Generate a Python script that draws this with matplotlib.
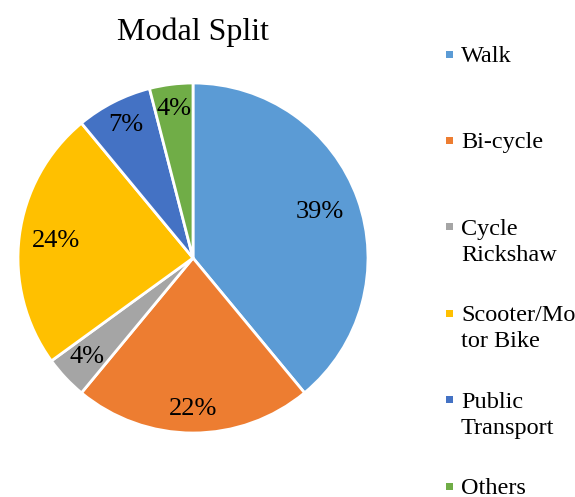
import numpy as np
import matplotlib.pyplot as plt
from matplotlib.patches import Rectangle

plt.rcParams['font.family'] = ['Liberation Serif', 'DejaVu Serif']

modes = ['Walk', 'Bi-cycle', 'Cycle\nRickshaw', 'Scooter/Mo\ntor Bike', 'Public\nTransport', 'Others']
shares = [39, 22, 4, 24, 7, 4]
colors = ['#5B9BD5', '#ED7D31', '#A5A5A5', '#FFC000', '#4472C4', '#70AD47']
# radial position of each percentage label (fraction of radius)
label_dist = [0.77, 0.86, 0.83, 0.79, 0.85, 0.86]

W, H = 575, 497
fig = plt.figure(figsize=(W / 100, H / 100), dpi=100)

# pie centred at (193, 258) px with a 175 px radius
cx, cy, r = 193, 258, 175
ax = fig.add_axes([(cx - r) / W, (H - cy - r) / H, 2 * r / W, 2 * r / H])
wedges, texts = ax.pie(shares, colors=colors, startangle=90, counterclock=False,
                       wedgeprops=dict(edgecolor='white', linewidth=2))
ax.set_xlim(-1, 1)
ax.set_ylim(-1, 1)
ax.set_aspect('equal')
ax.axis('off')

for w, val, d in zip(wedges, shares, label_dist):
    ang = np.deg2rad((w.theta1 + w.theta2) / 2)
    ax.text(d * np.cos(ang), d * np.sin(ang), f'{val}%', ha='center', va='center',
            fontsize=19, color='black')

fig.text(cx / W, 1 - 32 / H, 'Modal Split', ha='center', va='center', fontsize=23)

# legend drawn by hand, entries evenly spaced down the right side
y0, step = 54, 86.4
for i, (name, c) in enumerate(zip(modes, colors)):
    y = y0 + i * step
    fig.patches.append(Rectangle(((449.5 - 3.5) / W, 1 - (y + 3.5) / H), 7 / W, 7 / H,
                                 transform=fig.transFigure, facecolor=c, edgecolor='none'))
    fig.text(461 / W, 1 - (y - 8) / H, name, ha='left', va='top', fontsize=17.5,
             linespacing=1.33)

fig.savefig('out.png', dpi=100)
